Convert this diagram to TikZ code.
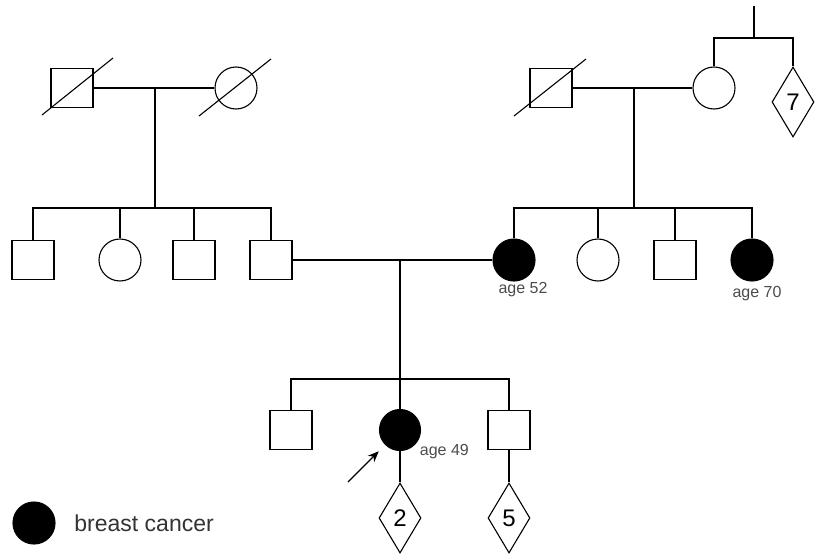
\documentclass[tikz,border=0pt]{standalone}
\usepackage{fontspec}
\setmainfont{Liberation Sans}
\usetikzlibrary{shapes.geometric, arrows.meta, positioning}

\begin{document}
\begin{tikzpicture}[x=1pt,y=-1pt,line width=1.1pt,
    male/.style={draw,rectangle,minimum width=42pt,minimum height=39pt,inner sep=0pt},
    female/.style={draw,circle,minimum size=42pt,inner sep=0pt},
    sick/.style={fill=black},
    unknown/.style={draw,diamond,minimum width=42pt,minimum height=70pt,inner sep=0pt,font=\fontsize{24}{28}\selectfont},
    age/.style={text=black!70,font=\fontsize{16}{19}\selectfont},
    sib/.style={to path={-| (\tikztotarget)}}]
        \useasboundingbox (0,0) rectangle (817,554);
        % grandparents
        \node[male] (gf1) at (72,88) {};
        \node[female] (gm1) at (236,88) {};
        \node[male] (gf2) at (551,88) {};
        \node[female] (gm2) at (714,88) {};
        \node[unknown] (d7) at (793,102) {7};
        % parents and their siblings
        \begin{scope}[every node/.style={male}]
          \node (a1) at (33,260) {};
          \node (a3) at (194,260) {};
          \node (a4) at (271,260) {};
          \node (c3) at (675,260) {};
        \end{scope}
        \begin{scope}[every node/.style={female}]
          \node (a2) at (120,260) {};
          \node[sick] (mo) at (514,260) {};
          \node (c2) at (598,260) {};
          \node[sick] (c4) at (752,260) {};
        \end{scope}
        \node[age] at (523,290) {age 52};
        \node[age] at (757,294) {age 70};
        % children
        \node[male] (b1) at (291,430) {};
        \node[female,sick,minimum size=41pt] (pb) at (400,430) {};
        \node[male] (b3) at (509,430) {};
        \node[age,anchor=west] at (416,452) {age 49};
        \node[unknown] (d2) at (400,518) {2};
        \node[unknown] (d5) at (509,518) {5};
        % junctions
        \coordinate (m1) at (155,88);
        \coordinate (s1) at (155,208);
        \coordinate (m3) at (634,88);
        \coordinate (s2) at (634,208);
        \coordinate (m2) at (400,260);
        \coordinate (s3) at (400,379);
        \coordinate (g0) at (754,6);
        \coordinate (s4) at (754,38);
        \begin{scope}[every edge/.style={draw=black}]
          \path (gf1) edge (gm1);
          \path (gf2) edge (gm2);
          \path (a4) edge (mo);
          \path (m1) edge (s1);
          \path (m3) edge (s2);
          \path (m2) edge (s3);
          \path (g0) edge (s4);
          \path (s1) edge[sib] (a1);
          \path (s1) edge[sib] (a2);
          \path (s1) edge[sib] (a3);
          \path (s1) edge[sib] (a4);
          \path (s2) edge[sib] (mo);
          \path (s2) edge[sib] (c2);
          \path (s2) edge[sib] (c3);
          \path (s2) edge[sib] (c4);
          \path (s3) edge[sib] (b1);
          \path (s3) edge[sib] (pb);
          \path (s3) edge[sib] (b3);
          \path (s4) edge[sib] (gm2);
          \path (s4) edge[sib] (d7);
          \path (pb) edge (d2);
          \path (b3) edge (d5);
        \end{scope}
        % deceased
        \draw (gf1) ++(-30,27) -- ++(71,-57);
        \foreach \n in {gm1,gf2}
          \draw (\n) ++(-37,28) -- ++(72,-57);
        % proband
        \coordinate (pa) at (348,482);
        \draw[-{Stealth[length=11pt,width=9pt]},shorten >=9pt] (pa) -- (pb);
        % legend
        \node[female,sick] (lg) at (34,523) {};
        \node[right=15pt of lg,text=black!80,font=\fontsize{23}{27}\selectfont] (lt) {breast cancer};
\end{tikzpicture}
\end{document}
